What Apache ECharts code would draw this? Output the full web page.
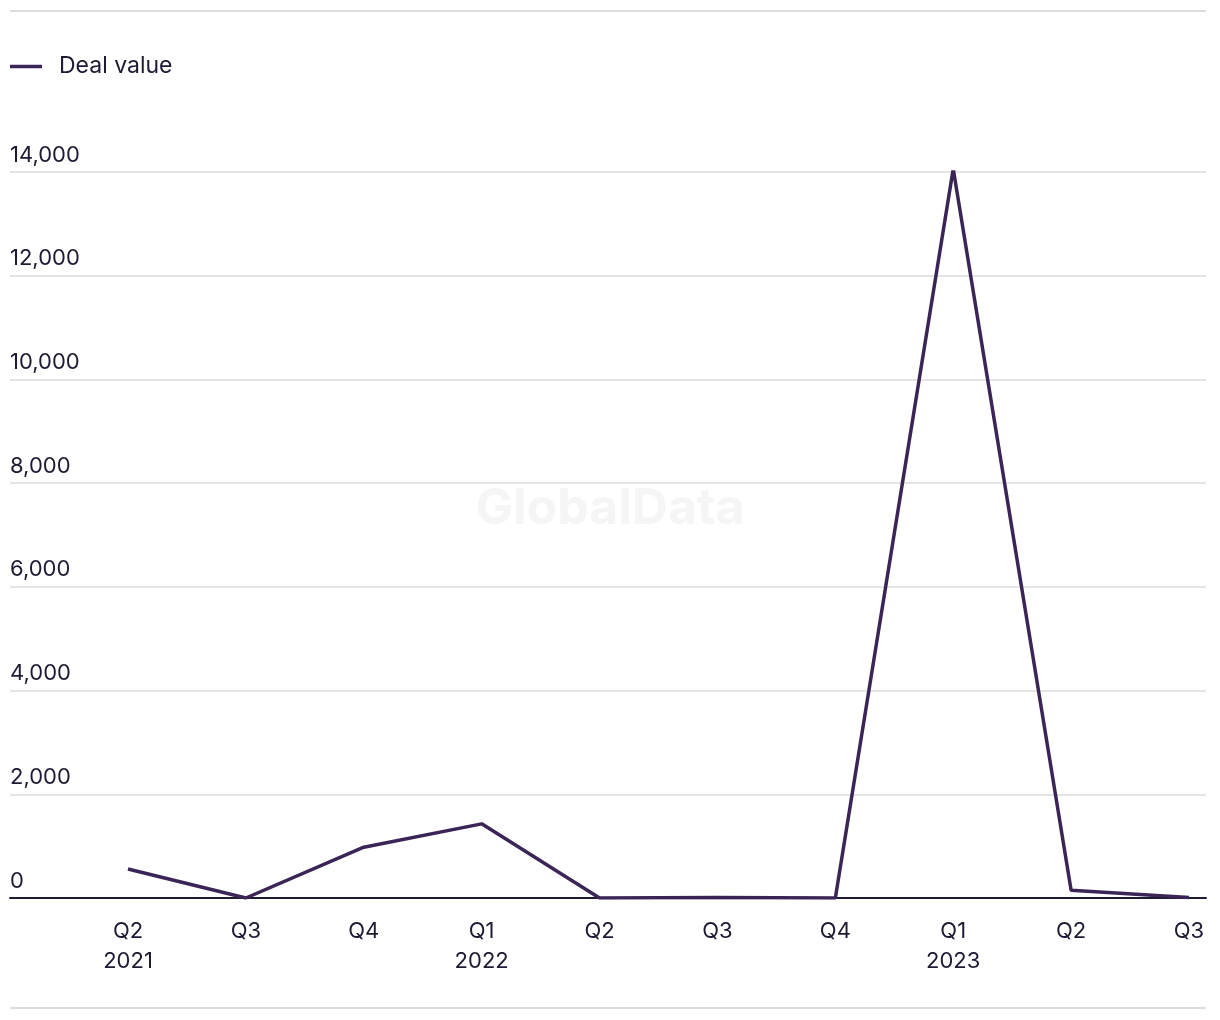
<!DOCTYPE html>
<html>
<head>
<meta charset="utf-8">
<script src="https://cdn.jsdelivr.net/npm/echarts@6/dist/echarts.min.js"></script>
<style>
html,body{margin:0;padding:0;background:#fff;}
#chart{width:1220px;height:1020px;}
</style>
</head>
<body>
<div id="chart"></div>
<script>
const categories = ['Q2\n2021','Q3','Q4','Q1\n2022','Q2','Q3','Q4','Q1\n2023','Q2','Q3'];
const dealValue = [560, 0, 980, 1430, 0, 10, 0, 14060, 150, 10];
const yTicks = { min: 0, max: 14000, interval: 2000 };
const seriesName = 'Deal value';

const FONT = 'Inter, "Noto Sans", sans-serif';
const TEXT = '#1d1a33';
const LINE = '#3a2556';

const chart = echarts.init(document.getElementById('chart'));
chart.setOption({
  animation: false,
  backgroundColor: '#fff',
  textStyle: { fontFamily: FONT },
  graphic: [
    { type: 'line', shape: { x1: 10, y1: 11, x2: 1206, y2: 11 }, style: { stroke: '#dcdcdc', lineWidth: 2 } },
    { type: 'line', shape: { x1: 10, y1: 1008, x2: 1206, y2: 1008 }, style: { stroke: '#dcdcdc', lineWidth: 2 } },
    { type: 'text', left: 'center', top: 484, z: -1, style: { text: 'GlobalData', font: 'bold 50px ' + FONT, fill: '#f5f5f5' } }
  ],
  legend: {
    left: 10, top: 55, padding: 0,
    icon: 'rect',
    itemWidth: 32, itemHeight: 3.5,
    textStyle: { fontSize: 23, color: TEXT, fontFamily: FONT, padding: [0, 0, 0, 12] },
    data: [seriesName]
  },
  grid: [
    { left: 10, right: 14, top: 172, bottom: 122 },
    { left: 128, right: 31, top: 172, bottom: 122 }
  ],
  xAxis: [
    { gridIndex: 0, type: 'value', min: 0, max: 1, axisLine: { show: true, onZero: false, lineStyle: { color: TEXT, width: 2 } },
      axisTick: { show: false }, axisLabel: { show: false }, splitLine: { show: false } },
    { gridIndex: 1, type: 'category', boundaryGap: false, data: categories,
      axisLine: { show: false }, axisTick: { show: false },
      axisLabel: { fontSize: 22, color: TEXT, fontFamily: FONT, lineHeight: 30, margin: 18, interval: 0 } }
  ],
  yAxis: [
    { gridIndex: 0, type: 'value', min: yTicks.min, max: yTicks.max, interval: yTicks.interval,
      axisLine: { show: false }, axisTick: { show: false },
      axisLabel: { inside: true, margin: 0, verticalAlign: 'bottom', padding: [0, 0, 6, 0], fontSize: 22, color: TEXT, fontFamily: FONT,
        formatter: v => v.toLocaleString('en-US') },
      splitLine: { lineStyle: { color: '#dcdcdc', width: 1.5 } } },
    { gridIndex: 1, type: 'value', min: yTicks.min, max: yTicks.max, interval: yTicks.interval, show: false, splitLine: { show: false } }
  ],
  series: [{
    name: seriesName, type: 'line', xAxisIndex: 1, yAxisIndex: 1,
    data: dealValue, showSymbol: false, symbol: 'none',
    lineStyle: { color: LINE, width: 3.5 }, itemStyle: { color: LINE }, z: 5
  }]
});
</script>
</body>
</html>
